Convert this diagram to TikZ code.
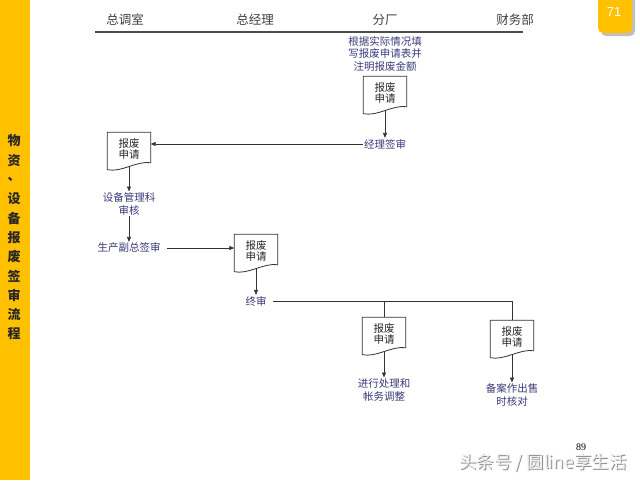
\documentclass[tikz,border=0pt]{standalone}
\usepackage{fontspec}
\setmainfont{Liberation Serif}
\newfontfamily\cjk{Noto Sans CJK SC}
\usetikzlibrary{arrows.meta,calc}
\definecolor{barY}{HTML}{FFC000}
\definecolor{flowtxt}{HTML}{3A3A7A}
\definecolor{linec}{HTML}{333333}
\tikzset{
  flow/.style={font=\cjk\fontsize{10.5}{12.8}\selectfont, text=flowtxt, align=center, inner sep=1pt},
  head/.style={font=\cjk\fontsize{12.5}{14}\selectfont, text=black!75, inner sep=0pt},
  docbox/.style={minimum width=43pt, minimum height=37pt, inner sep=0pt, align=center,
     font=\cjk\fontsize{10.5}{11.5}\selectfont, text=black!85, anchor=center},
  conn/.style={draw=linec, line width=0.8pt},
  arr/.style={conn, -{Triangle[length=5pt,width=4pt]}},
  side/.style={font=\cjk\bfseries\fontsize{13}{13}\selectfont, text=black!85, inner sep=0pt},
  wmark/.style={font=\cjk\fontsize{17.5}{17.5}\selectfont, inner sep=0pt}
}
\newcommand\docoutline[1]{%
  \draw[linec, line width=0.8pt, fill=white]
    (#1.north west) -- (#1.north east) -- ([yshift=7pt]#1.south east)
    .. controls ([xshift=-14pt,yshift=9pt]#1.south east) and ([xshift=14pt,yshift=-3pt]#1.south west)
    .. (#1.south west) -- cycle;}
\begin{document}
\begin{tikzpicture}[x=1pt,y=-1pt]
\useasboundingbox (0,0) rectangle (640,480);
\fill[white] (0,0) rectangle (640,480);
% left bar
\fill[barY] (0,0) rectangle (30,480);
\foreach \c [count=\i from 0] in {物,资,、,设,备,报,废,签,审,流,程}
  \node[side] (s\i) at (14,{141+19.3*\i}) {\c};
% badge
\fill[black!25, rounded corners=5pt] (601,-6) rectangle (635,36);
\fill[barY, rounded corners=5pt] (598,-6) rectangle (632,33);
\node[font=\fontspec{Liberation Sans}\fontsize{13}{13}\selectfont, text=white] (badge) at (614,12) {71};
% header
\node[head] (h1) at (125,20) {总调室};
\node[head] (h2) at (255,20) {总经理};
\node[head] (h3) at (385,20) {分厂};
\node[head] (h4) at (515,20) {财务部};
\coordinate (hl) at (95,32);
\coordinate (hr) at (523,32);
\draw[black!70, line width=1.2pt] (hl) -- (hr);
% flow
\node[flow] (t1) at (385,54) {根据实际情况填\\写报废申请表并\\注明报废金额};
\node[docbox] (d1) at (385,95) {};
\docoutline{d1}
\node[docbox] (d1t) at (385,93) {报废\\申请};
\node[flow] (n1) at (385,144) {经理签审};
\draw[arr] ([yshift=4pt]d1.south) -- (n1.north);

\node[docbox] (d2) at (129,151) {};
\docoutline{d2}
\node[docbox] (d2t) at (129,149) {报废\\申请};
\draw[arr] (n1.west) -- (n1.west -| d2.east);

\node[flow] (n2) at (129,204) {设备管理科\\审核};
\draw[arr] ([yshift=4pt]d2.south) -- (n2.north);

\node[flow] (n3) at (129,248) {生产副总签审};
\draw[arr] (n2.south) -- (n3.north);

\node[docbox] (d3) at (256,253) {};
\docoutline{d3}
\node[docbox] (d3t) at (256,251) {报废\\申请};
\draw[arr] ([xshift=5pt]n3.east) -- (n3.east -| d3.west);

\node[flow] (n4) at (256,301) {终审};
\draw[arr] ([yshift=4pt]d3.south) -- (n4.north);

\node[docbox] (d4) at (384,336) {};
\docoutline{d4}
\node[docbox] (d4t) at (384,334) {报废\\申请};
\node[docbox] (d5) at (512,339) {};
\docoutline{d5}
\node[docbox] (d5t) at (512,337) {报废\\申请};

\coordinate (b1) at (d4.north |- n4.east);
\coordinate (b2) at (d5.north |- n4.east);
\draw[conn] ([xshift=5pt]n4.east) -- (b2) -- (d5.north);
\draw[conn] (b1) -- (d4.north);

\node[flow] (n5) at (384,390) {进行处理和\\帐务调整};
\draw[arr] ([yshift=4pt]d4.south) -- (n5.north);
\node[flow] (n6) at (512,395) {备案作出售\\时核对};
\draw[arr] ([yshift=4pt]d5.south) -- (n6.north);

% footer
\node[font=\fontsize{10}{10}\selectfont, text=black] (pg) at (581,447) {89};
\node[wmark, text=black!45] (wm0) at (544,464) {头条号 / 圆line享生活};
\node[wmark, text=black!6] (wm) at (543,463) {头条号 / 圆line享生活};
\end{tikzpicture}
\end{document}
